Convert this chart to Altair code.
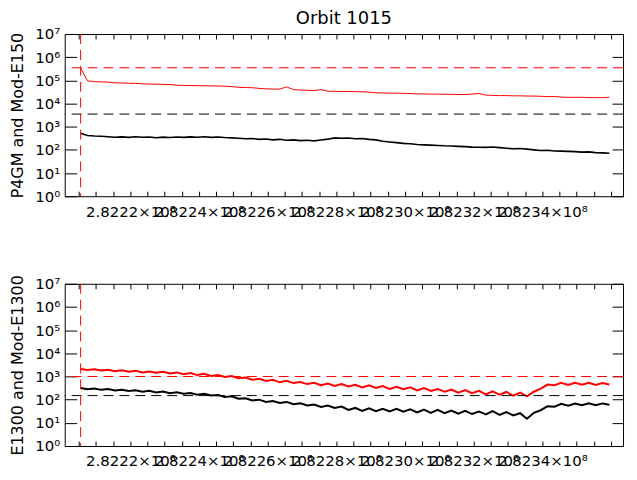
import altair as alt
import pandas as pd

BASE = 282200000
TIME_OFFSETS = [5500, 7500, 9500, 11500, 13500, 15500, 17500, 19500, 21500, 23500,
                25500, 27500, 29500, 31500, 33500, 35500, 37500, 39500, 41500, 43500,
                45500, 47500, 49500, 51500, 53500, 55500, 57500, 59500, 61500, 63500,
                65500, 67500, 69500, 71500, 73500, 75500, 77500, 79500, 81500, 83500,
                85500, 87500, 89500, 91500, 93500, 95500, 97500, 99500, 101500, 103500,
                105500, 107500, 109500, 111500, 113500, 115500, 117500, 119500, 121500, 123500,
                125500, 127500, 129500, 131500, 133500, 135500, 137500, 139500, 141500, 143500,
                145500, 147500, 149500, 151500, 153500, 155500, 157500, 159500]

TOP_RED = [340000, 95000, 88000, 86000, 84000, 78000, 77000, 75000, 74000, 71000,
           69000, 68000, 67000, 66000, 62000, 60000, 60000, 59000, 58000, 58000,
           57000, 56000, 54000, 50000, 49000, 48000, 45000, 43000, 42000, 42000,
           52000, 40000, 38000, 37500, 36000, 40000, 34000, 33500, 33000, 33000,
           32500, 32000, 31000, 29000, 28500, 28000, 28000, 27500, 27000, 26000,
           26000, 25500, 25500, 25000, 25000, 24500, 24500, 25500, 27000, 23000,
           22500, 22000, 22000, 21500, 21500, 21000, 21000, 20500, 20000, 20000,
           19000, 18500, 18500, 18500, 18000, 18000, 18000, 18500]

TOP_BLACK = [520, 420, 400, 390, 370, 350, 365, 345, 370, 350,
             360, 335, 355, 340, 360, 345, 365, 350, 370, 345,
             360, 340, 330, 315, 300, 310, 285, 295, 270, 285,
             260, 270, 250, 260, 245, 265, 290, 330, 315, 325,
             300, 310, 285, 270, 235, 220, 205, 190, 185, 170,
             165, 160, 155, 150, 148, 142, 138, 132, 130, 128,
             132, 125, 118, 112, 115, 108, 100, 94, 96, 90,
             88, 86, 84, 80, 82, 76, 74, 72]

BOT_RED = [2100, 1900, 2050, 1800, 1950, 1700, 1850, 1600, 1750, 1500,
           1650, 1450, 1600, 1350, 1500, 1250, 1400, 1150, 1300, 1050,
           1150, 950, 1050, 850, 900, 720, 800, 640, 720, 560,
           650, 520, 580, 470, 540, 420, 500, 390, 470, 370,
           440, 340, 420, 320, 390, 290, 360, 280, 340, 250,
           320, 240, 290, 220, 270, 200, 260, 190, 240, 170,
           230, 165, 215, 150, 200, 140, 220, 300, 450, 420,
           540, 430, 530, 440, 540, 430, 520, 450]

BOT_BLACK = [320, 280, 300, 265, 285, 250, 270, 235, 255, 220,
             240, 205, 225, 190, 210, 180, 195, 165, 180, 150,
             160, 130, 140, 110, 115, 92, 100, 80, 88, 72,
             80, 64, 70, 56, 62, 48, 56, 44, 50, 36,
             44, 33, 42, 32, 40, 31, 40, 30, 38, 28,
             37, 27, 36, 26, 34, 25, 33, 24, 31, 23,
             32, 22, 29, 21, 26, 15, 27, 35, 52, 50,
             66, 55, 68, 57, 70, 58, 69, 60]

TOP_THRESH = [350000, 3500]
BOT_THRESH = [1000, 150]
THRESH_COLORS = ["#ff0000", "#000000"]
START_OFFSET = 5500

MAJOR_TICKS = [282220000, 282240000, 282260000, 282280000, 282300000, 282320000, 282340000]
MINOR_OFFSETS = [5000, 10000, 15000, 20000, 25000, 30000, 35000, 40000, 45000, 50000,
                 55000, 60000, 65000, 70000, 75000, 80000, 85000, 90000, 95000, 100000,
                 105000, 110000, 115000, 120000, 125000, 130000, 135000, 140000, 145000,
                 150000, 155000, 160000]
Y_TICKS = [1, 10, 100, 1000, 10000, 100000, 1000000, 10000000]

XDOM = [BASE + 870, BASE + 163480]
FONT = "DejaVu Sans"

times = [BASE + o for o in TIME_OFFSETS]
minor_vals = [BASE + o for o in MINOR_OFFSETS]

ylab = ("datum.value==1?'10⁰':datum.value==10?'10¹':datum.value==100?'10²':"
        "datum.value==1000?'10³':datum.value==10000?'10⁴':datum.value==100000?'10⁵':"
        "datum.value==1000000?'10⁶':'10⁷'")
xlab = "format(datum.value/1e8, '.4f') + '×10⁸'"


def panel(red, black, thresh, ytitle, title=None, lw_red=1, lw_black=1):
    xs = alt.Scale(domain=XDOM, nice=False, zero=False)
    ys = alt.Scale(type="log", domain=[1, 1e7], nice=False)
    df = pd.DataFrame({"t": times, "red": red, "black": black})
    th = pd.DataFrame({"v": thresh, "c": THRESH_COLORS})
    vr = pd.DataFrame({"t": [BASE + START_OFFSET]})

    red_l = alt.Chart(df).mark_line(color="#ff0000", strokeWidth=lw_red).encode(
        x=alt.X("t:Q", scale=xs, axis=alt.Axis(
            orient="bottom", values=MAJOR_TICKS, labelExpr=xlab, ticks=False, domain=False,
            grid=False, labelOverlap=False, labelFlush=False, labelPadding=8, title=None)),
        y=alt.Y("red:Q", scale=ys, axis=alt.Axis(
            orient="left", values=Y_TICKS, labelExpr=ylab, ticks=False, domain=False,
            grid=False, labelPadding=5, title=ytitle, titlePadding=9)),
    )
    black_l = alt.Chart(df).mark_line(color="#000000", strokeWidth=lw_black).encode(
        x=alt.X("t:Q", scale=xs, axis=alt.Axis(
            orient="bottom", values=minor_vals, labels=False, domain=False, grid=False,
            ticks=True, tickSize=5, offset=-5, title=None)),
        y=alt.Y("black:Q", scale=ys, axis=alt.Axis(
            orient="left", values=Y_TICKS, labels=False, domain=False, grid=False,
            ticks=True, tickSize=12, offset=-12, title=None)),
    )
    h_l = alt.Chart(th).mark_rule(strokeDash=[10, 6], strokeWidth=1).encode(
        y=alt.Y("v:Q", scale=ys, axis=alt.Axis(
            orient="right", values=Y_TICKS, labels=False, domain=False, grid=False,
            ticks=True, tickSize=11, offset=-11, title=None)),
        color=alt.Color("c:N", scale=None),
    )
    v_l = alt.Chart(vr).mark_rule(strokeDash=[10, 6], strokeWidth=1, color="#ff0000").encode(
        x=alt.X("t:Q", scale=xs, axis=alt.Axis(
            orient="top", values=minor_vals, labels=False, domain=False, grid=False,
            ticks=True, tickSize=5, offset=-5, title=None)),
    )
    props = dict(width=561, height=163)
    if title:
        props["title"] = alt.Title(title, fontSize=18, font=FONT, fontWeight="normal",
                                   frame="group", offset=-1, anchor="middle", color="black")
    return alt.layer(red_l, black_l, h_l, v_l).resolve_axis(
        x="independent", y="independent").properties(**props)


top = panel(TOP_RED, TOP_BLACK, TOP_THRESH, "P4GM and Mod-E150", "Orbit  1015",
            lw_red=1, lw_black=1.6)
bot = panel(BOT_RED, BOT_BLACK, BOT_THRESH, "E1300 and Mod-E1300", lw_red=2, lw_black=2)

chart = alt.vconcat(top, bot, spacing=54).properties(
    padding={"left": 1, "top": 0, "right": 5, "bottom": 5}, background="white"
).configure_view(stroke="black", strokeWidth=1).configure_axis(
    labelFont=FONT, labelFontSize=15, labelColor="black", tickColor="black",
    titleFont=FONT, titleFontSize=16, titleFontWeight="normal", titleColor="black"
)

chart.save("out.html", embed_options={"renderer": "svg", "actions": False})
